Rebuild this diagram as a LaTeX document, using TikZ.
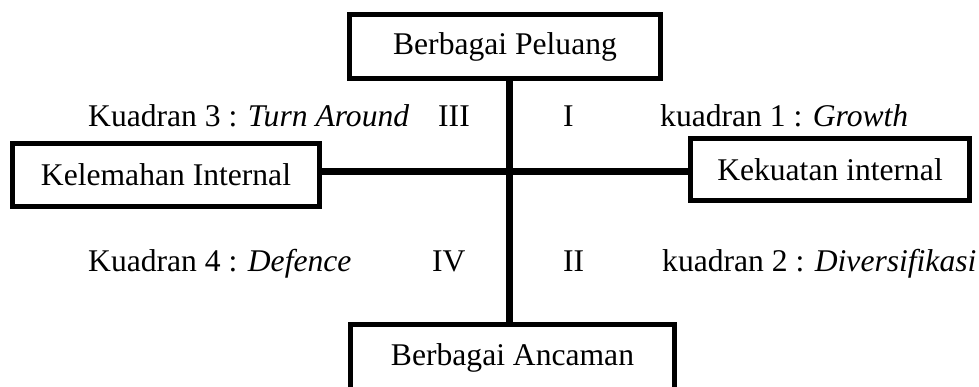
\documentclass[tikz,border=0pt]{standalone}
\usepackage{fontspec}
\setmainfont{Liberation Serif}
\usetikzlibrary{positioning, calc}

\begin{document}
\begin{tikzpicture}[
    x=1pt, y=-1pt,
    font=\fontsize{31.6}{38}\selectfont,
    box/.style={rectangle, draw, line width=5pt, fill=white, text centered, inner sep=0pt},
    axis/.style={line width=7pt},
    lbl/.style={anchor=base west, inner sep=0pt}
]
\useasboundingbox (0,0) rectangle (979,387);
\clip (0,0) rectangle (979,387);

% Axes crossing point
\coordinate (c) at (509,172);

% Boxes
\node[box, minimum width=311pt, minimum height=64pt] (peluang) at (505,46.5) {Berbagai Peluang};
\node[box, minimum width=307pt, minimum height=63pt] (lemah) at (166,175) {Kelemahan Internal};
\node[box, minimum width=279pt, minimum height=62pt] (kuat) at (830,169.5) {Kekuatan internal};
\node[box, minimum width=324pt, minimum height=67pt] (ancaman) at (512.5,358) {Berbagai Ancaman};

% Axes
\draw[axis] (peluang.south -| c) -- (ancaman.north -| c);
\draw[axis] (lemah.east |- c) -- (kuat.west |- c);

% Quadrant labels (upper row)
\node[lbl] (q3) at (88,127) {Kuadran 3 : \textit{Turn Around}};
\node[lbl] (q3num) at (438,127) {III};
\node[lbl] (q1num) at (563,127) {I};
\node[lbl] (q1) at (660,127) {kuadran 1 : \textit{Growth}};

% Quadrant labels (lower row)
\node[lbl] (q4) at (88,272) {Kuadran 4 : \textit{Defence}};
\node[lbl] (q4num) at (432,272) {IV};
\node[lbl] (q2num) at (563,272) {II};
\node[lbl] (q2) at (662,272) {kuadran 2 : \textit{Diversifikasi}};

\end{tikzpicture}
\end{document}
